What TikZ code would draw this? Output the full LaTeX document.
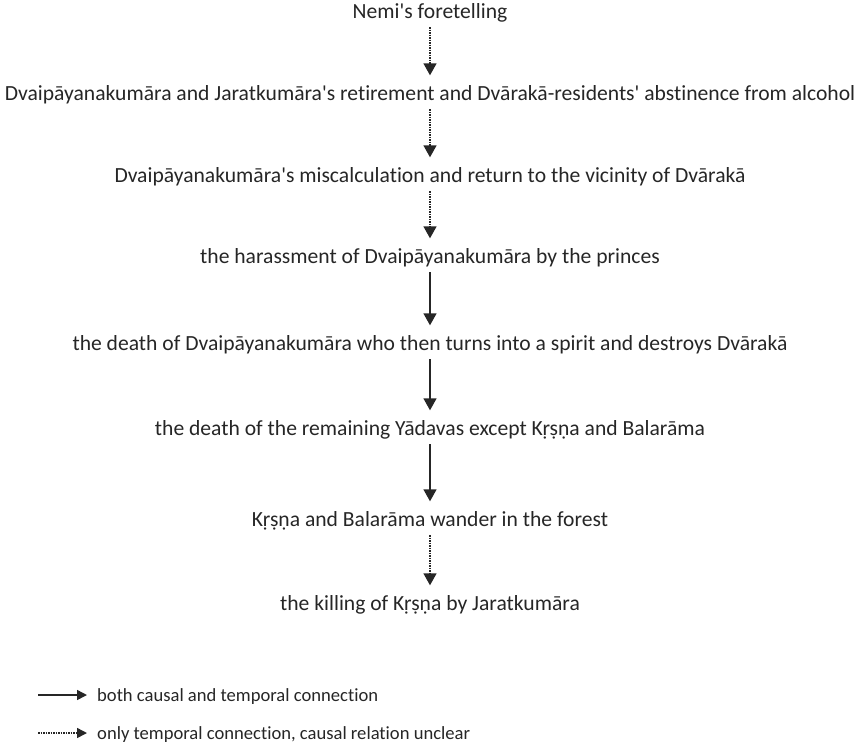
\documentclass[tikz,border=0pt]{standalone}
\usepackage{fontspec}
\setmainfont{Carlito}[Ligatures={NoCommon}]
\usetikzlibrary{arrows.meta,positioning}
\definecolor{Ink}{HTML}{262626}

\begin{document}
\begin{tikzpicture}[x=1pt,y=1pt,
    event/.style={inner sep=0pt, text height=16pt, text depth=4pt, text=Ink, font=\fontsize{21.6}{24}\selectfont},
    causal/.style={draw=Ink, line width=1.5pt, -{Triangle[width=13pt,length=12pt]}, shorten <=5pt, shorten >=8.5pt},
    temporal/.style={causal, densely dotted},
    legendtext/.style={event, anchor=west, font=\fontsize{18.6}{22}\selectfont},
    legarrow/.style={draw=Ink, line width=1.5pt, -{Triangle[width=10pt,length=10pt]}, shorten >=10pt}]
    \useasboundingbox (0,0) rectangle (868,-747);

    \node[event] (fore) at (430,-12) {Nemi\textquotesingle s foretelling};
    \node[event] (retire) at (430,-94) {Dvaipāyanakumāra and Jaratkumāra\textquotesingle s retirement and Dvārakā-residents\textquotesingle{} abstinence from alcohol};
    \node[event] (miscalc) at (430,-176) {Dvaipāyanakumāra\textquotesingle s miscalculation and return to the vicinity of Dvārakā};
    \node[event] (harass) at (430,-257) {the harassment of Dvaipāyanakumāra by the princes};
    \node[event] (death) at (430,-344) {the death of Dvaipāyanakumāra who then turns into a spirit and destroys Dvārakā};
    \node[event] (yadavas) at (430,-429) {the death of the remaining Yādavas except Kṛṣṇa and Balarāma};
    \node[event] (wander) at (430,-520) {Kṛṣṇa and Balarāma wander in the forest};
    \node[event] (kill) at (430,-604) {the killing of Kṛṣṇa by Jaratkumāra};

    \draw[temporal] (fore) -- (retire);
    \draw[temporal] (retire) -- (miscalc);
    \draw[temporal] (miscalc) -- (harass);
    \draw[causal] (harass) -- (death);
    \draw[causal] (death) -- (yadavas);
    \draw[causal] (yadavas) -- (wander);
    \draw[temporal] (wander) -- (kill);

    % legend
    \coordinate (solidstart) at (38,-695);
    \coordinate (dotstart) at (38,-733);
    \node[legendtext] (solidkey) at (97,-695) {both causal and temporal connection};
    \node[legendtext] (dotkey) at (97,-733) {only temporal connection, causal relation unclear};
    \draw[legarrow] (solidstart) -- (solidkey);
    \draw[legarrow, densely dotted] (dotstart) -- (dotkey);
  \end{tikzpicture}
\end{document}
